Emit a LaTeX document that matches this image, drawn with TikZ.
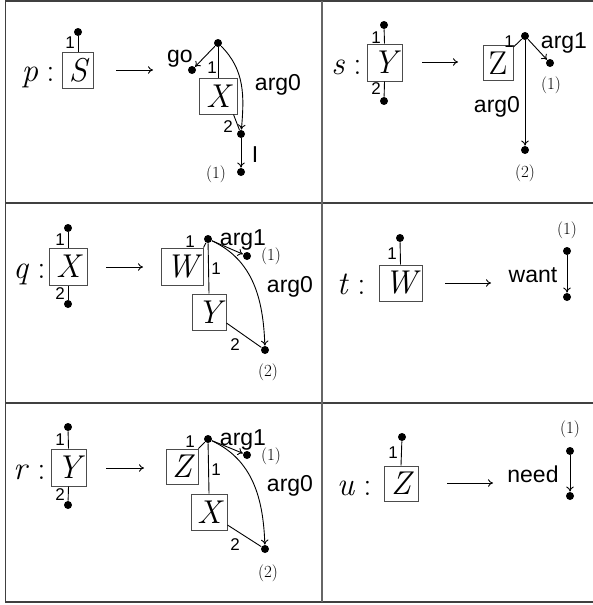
\documentclass[tikz,border=0pt]{standalone}
\usepackage{fontspec}
\setsansfont{Liberation Sans}
\usetikzlibrary{arrows.meta}
\newcommand{\hd}[1]{\textit{#1}\hspace{0.25em}:}
\begin{document}
\begin{tikzpicture}[x=1pt,y=-1pt,line width=0.9pt,
  >={To[length=5pt,width=7.5pt]},
  gbox/.style={draw=black!70, line width=1pt, inner sep=0pt, minimum height=36pt, font=\fontsize{33}{36}\selectfont\itshape},
  dot/.style={circle, fill, inner sep=0pt, minimum size=8pt},
  lab/.style={inner sep=0pt, font=\sffamily\fontsize{23}{25}\selectfont},
  num/.style={inner sep=0pt, font=\sffamily\fontsize{17}{18}\selectfont},
  par/.style={inner sep=0pt, font=\fontsize{17}{19}\selectfont},
  head/.style={inner sep=0pt, anchor=base east, font=\fontsize{33}{36}\selectfont},
  grid/.style={line width=1.5pt, draw=black!75}
]
\useasboundingbox (0,0) rectangle (593,605);
% table
\coordinate (tl) at (5.5,1); \coordinate (tr) at (593,1);
\coordinate (bl) at (5.5,602); \coordinate (br) at (593,602);
\coordinate (ml1) at (5.5,203); \coordinate (mr1) at (593,203);
\coordinate (ml2) at (5.5,403); \coordinate (mr2) at (593,403);
\coordinate (vt) at (322,1); \coordinate (vb) at (322,602);
\draw[grid] (tr) -- (tl) -- (bl) -- (br);
\draw[grid] (ml1) -- (mr1);
\draw[grid] (ml2) -- (mr2);
\draw[grid, draw=black!60] (vt) -- (vb);

% ---------- panel p ----------
\node[gbox, minimum width=31pt] (pS) at (78,70) {S};
\node[head] (pH) at (55,81) {\hd{p}};
\node[dot] (pSd) at (78,32) {};
\draw (pSd) -- (pS.north);
\node[num] (pS1) at (70,43) {1};
\coordinate (pa1) at (116,70); \coordinate (pa2) at (153,70);
\draw[->] (pa1) -- (pa2);
\node[dot] (pt) at (218,43) {};
\node[dot] (pgo) at (192,70) {};
\node[lab] (pgol) at (180,59) {go};
\draw[->] (pt) -- (pgo);
\node[gbox, minimum width=38pt] (pX) at (218,96) {X};
\draw (pt) -- (pX.north);
\node[num] (pX1) at (212,68) {1};
\node[dot] (p2) at (241,134) {};
\draw ([xshift=-4pt]pX.south east) -- (p2);
\node[num] (pX2) at (228,127) {2};
\draw[->] (pt) to[out=-45, in=85] (p2);
\node[lab] (parg0) at (278,85) {arg0};
\node[dot] (p1) at (241,172) {};
\draw[->] (p2) -- (p1);
\node[lab] (pI) at (255,155) {I};
\node[par] (pp1) at (216,174) {(1)};

% ---------- panel s ----------
\node[gbox, minimum width=35pt, minimum height=37pt] (sY) at (384.5,62.5) {Y};
\node[head] (sH) at (362,74) {\hd{s}};
\node[dot] (sYt) at (384,25) {};
\draw (sYt) -- (sY.north);
\node[num] (sY1) at (376,38) {1};
\node[dot] (sYb) at (384,101) {};
\draw (sYb) -- (sY.south);
\node[num] (sY2) at (376,89) {2};
\coordinate (sa1) at (422,62); \coordinate (sa2) at (458,62);
\draw[->] (sa1) -- (sa2);
\node[gbox, minimum width=30pt, minimum height=35pt] (sZ) at (498,63) {\upshape Z};
\node[dot] (st) at (525,36) {};
\draw ([yshift=-2pt]sZ.north east) -- (st);
\node[num] (sZ1) at (509,42) {1};
\node[dot] (s1) at (550,63) {};
\draw[->] (st) -- (s1);
\node[lab] (sarg1) at (564,43) {arg1};
\node[par] (sp1) at (551,85) {(1)};
\node[dot] (s2) at (525,150) {};
\draw[->] (st) -- (s2);
\node[lab] (sarg0) at (497,107) {arg0};
\node[par] (sp2) at (525,173) {(2)};

% ---------- panel q ----------
\node[gbox, minimum width=38pt, minimum height=37pt] (qX) at (68,266.5) {X};
\node[head] (qH) at (46,278) {\hd{q}};
\node[dot] (qXt) at (68,228) {};
\draw (qXt) -- (qX.north);
\node[num] (qX1) at (60,240) {1};
\node[dot] (qXb) at (68,304) {};
\draw (qXb) -- (qX.south);
\node[num] (qX2) at (60,294) {2};
\coordinate (qa1) at (106,267); \coordinate (qa2) at (143,267);
\draw[->] (qa1) -- (qa2);
\node[gbox, minimum width=42pt, minimum height=37pt] (qW) at (182,266.5) {W};
\node[dot] (qt) at (208,239) {};
\draw (qW.north east) -- (qt);
\node[num] (qW1) at (190,241.5) {1};
\node[dot] (q1) at (247,256) {};
\draw[->] (qt) -- (q1);
\node[lab] (qarg1) at (243,240) {arg1};
\node[par] (qp1) at (271,256) {(1)};
\node[gbox, minimum width=34pt] (qY) at (209,312) {Y};
\draw (qt) -- (qY.north);
\node[num] (qY1) at (216,269) {1};
\node[dot] (q2) at (265,350) {};
\draw ([yshift=-11pt]qY.east) -- (q2);
\node[num] (qY2) at (235,345) {2};
\draw[->] (qt) to[out=-25, in=92] (q2);
\node[lab] (qarg0) at (290,287) {arg0};
\node[par] (qp2) at (268,372) {(2)};

% ---------- panel r ----------
\node[gbox, minimum width=35pt, minimum height=37pt] (rY) at (68.5,467.5) {Y};
\node[head] (rH) at (46,479) {\hd{r}};
\node[dot] (rYt) at (68,427) {};
\draw (rYt) -- (rY.north);
\node[num] (rY1) at (60,440) {1};
\node[dot] (rYb) at (68,505) {};
\draw (rYb) -- (rY.south);
\node[num] (rY2) at (60,495) {2};
\coordinate (ra1) at (106,468); \coordinate (ra2) at (144,468);
\draw[->] (ra1) -- (ra2);
\node[gbox, minimum width=32pt, minimum height=35pt] (rZ) at (182,466.5) {Z};
\node[dot] (rt) at (208,439) {};
\draw (rZ.north east) -- (rt);
\node[num] (rZ1) at (190,441.5) {1};
\node[dot] (r1) at (247,455) {};
\draw[->] (rt) -- (r1);
\node[lab] (rarg1) at (243,440) {arg1};
\node[par] (rp1) at (271,456) {(1)};
\node[gbox, minimum width=36pt] (rX) at (209,512) {X};
\draw (rt) -- (rX.north);
\node[num] (rX1) at (216,470) {1};
\node[dot] (r2) at (265,549) {};
\draw ([yshift=-13pt]rX.east) -- (r2);
\node[num] (rX2) at (235,545) {2};
\draw[->] (rt) to[out=-25, in=92] (r2);
\node[lab] (rarg0) at (290,486) {arg0};
\node[par] (rp2) at (268,573) {(2)};

% ---------- panel t ----------
\node[gbox, minimum width=43pt] (tW) at (400.5,283) {W};
\node[head] (tH) at (366,294) {\hd{t}};
\node[dot] (tWt) at (400,238) {};
\draw (tWt) -- (tW.north);
\node[num] (tW1) at (392,254) {1};
\coordinate (ta1) at (445,283); \coordinate (ta2) at (491,283);
\draw[->] (ta1) -- (ta2);
\node[lab] (twant) at (533,275) {want};
\node[dot] (tt) at (567,251) {};
\node[dot] (tb) at (567,297) {};
\draw[->] (tt) -- (tb);
\node[par] (tp1) at (567,230) {(1)};

% ---------- panel u ----------
\node[gbox, minimum width=34pt, minimum height=35pt] (uZ) at (401,483.5) {Z};
\node[head] (uH) at (372,495) {\hd{u}};
\node[dot] (uZt) at (402,437) {};
\draw (uZt) -- (uZ.north);
\node[num] (uZ1) at (393,453) {1};
\coordinate (ua1) at (447,483); \coordinate (ua2) at (493,483);
\draw[->] (ua1) -- (ua2);
\node[lab] (uneed) at (533,474) {need};
\node[dot] (ut) at (570,451) {};
\node[dot] (ub) at (570,496) {};
\draw[->] (ut) -- (ub);
\node[par] (up1) at (570,429) {(1)};
\end{tikzpicture}
\end{document}
